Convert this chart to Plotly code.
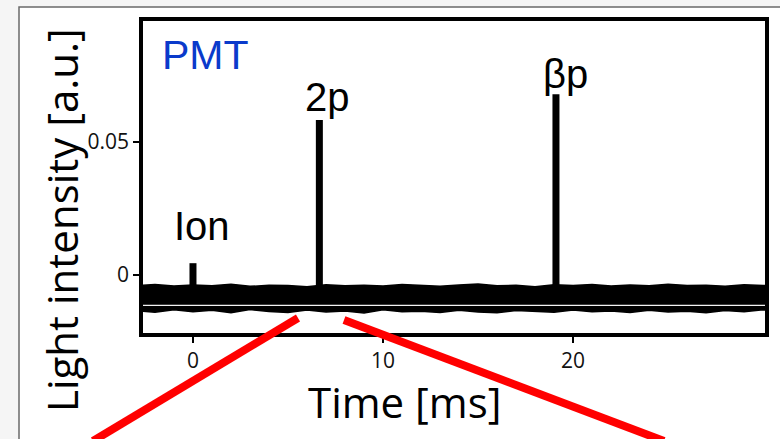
import plotly.graph_objects as go

# ---------------- data ----------------
# baseline noise band envelope (time in ms, light intensity in a.u.)
t_env = [-3, -2, -1, 0, 1, 2, 3, 4, 5, 6, 7, 8, 9, 10, 11, 12, 13, 14, 15, 16,
         17, 18, 19, 20, 21, 22, 23, 24, 25, 26, 27, 28, 29, 30, 31]
band_upper = [-0.0040, -0.0036, -0.0042, -0.0038, -0.0041, -0.0035, -0.0043, -0.0039,
              -0.0040, -0.0044, -0.0037, -0.0041, -0.0039, -0.0042, -0.0036, -0.0040,
              -0.0043, -0.0038, -0.0034, -0.0041, -0.0039, -0.0044, -0.0037, -0.0040,
              -0.0036, -0.0042, -0.0038, -0.0041, -0.0035, -0.0040, -0.0039, -0.0043,
              -0.0037, -0.0040, -0.0041]
band_lower = [-0.0134, -0.0140, -0.0131, -0.0138, -0.0133, -0.0142, -0.0130, -0.0137,
              -0.0141, -0.0132, -0.0139, -0.0135, -0.0143, -0.0131, -0.0138, -0.0136,
              -0.0141, -0.0133, -0.0139, -0.0142, -0.0134, -0.0137, -0.0140, -0.0132,
              -0.0138, -0.0135, -0.0141, -0.0133, -0.0139, -0.0136, -0.0142, -0.0134,
              -0.0138, -0.0131, -0.0136]
baseline_level = -0.0085

# peaks
peak_labels = ["Ion", "2p", "βp"]
peak_times = [0.0, 6.65, 19.1]
peak_heights = [0.0044, 0.0581, 0.0678]

# axes
x_range = [-2.63, 30.1]
y_range = [-0.0218, 0.0953]
x_tickvals = [0, 10, 20]
x_ticktext = ["0", "10", "20"]
y_tickvals = [0, 0.05]
y_ticktext = ["0", "0.05"]

# ---------------- layout helpers ----------------
W, H = 780, 439
ML, MR, MT, MB = 143, 15, 21, 106
PW, PH = W - ML - MR, H - MT - MB


def px(xp):
    return (xp - ML) / PW


def py(yp):
    return (H - MB - yp) / PH


fig = go.Figure()

# noise band
fig.add_trace(go.Scatter(
    x=t_env + t_env[::-1],
    y=band_upper + band_lower[::-1],
    fill="toself", fillcolor="black", mode="lines",
    line=dict(color="black", width=1.5),
    hoverinfo="skip", showlegend=False,
))

# spikes
sx, sy = [], []
for t, h in zip(peak_times, peak_heights):
    sx += [t, t, None]
    sy += [baseline_level, h, None]
fig.add_trace(go.Scatter(
    x=sx, y=sy, mode="lines",
    line=dict(color="black", width=7),
    hoverinfo="skip", showlegend=False,
))

label_font = dict(family="Liberation Sans, Arial, sans-serif", size=40, color="black")
label_pos = {"Ion": (0.47, 0.0185), "2p": (7.1, 0.0668), "βp": (19.6, 0.0755)}
for lab in peak_labels:
    x, y = label_pos[lab]
    fig.add_annotation(x=x, y=y, xref="x", yref="y", text=lab, showarrow=False,
                       font=label_font, xanchor="center", yanchor="middle")

fig.add_annotation(x=0.68, y=0.0825, xref="x", yref="y", text="PMT", showarrow=False,
                   font=dict(family="Liberation Sans, Arial, sans-serif", size=41, color="#0a3acb"),
                   xanchor="center", yanchor="middle")

# axis titles
fig.add_annotation(x=px(61), y=py(220), xref="paper", yref="paper",
                   text="Light intensity [a.u.]", textangle=-90, showarrow=False,
                   font=dict(family="Open Sans, sans-serif", size=42, color="black"),
                   xanchor="center", yanchor="middle")
fig.add_annotation(x=px(405), y=py(401), xref="paper", yref="paper",
                   text="Time [ms]", showarrow=False,
                   font=dict(family="Open Sans, sans-serif", size=42, color="black"),
                   xanchor="center", yanchor="middle")

shapes = [
    # outer white panel with grey frame
    dict(type="rect", xref="paper", yref="paper", x0=px(19), y0=py(460), x1=px(800), y1=py(7),
         fillcolor="white", line=dict(color="#6a6a6a", width=1.5), layer="below"),
    # faint white scan line across the band
    dict(type="line", xref="paper", yref="y", x0=0, x1=1, y0=-0.0114, y1=-0.0114,
         line=dict(color="rgba(255,255,255,0.95)", width=1.2), layer="above"),
    # red zoom lines
    dict(type="line", xref="paper", yref="paper", x0=px(93), y0=py(441), x1=px(298), y1=py(318),
         line=dict(color="#ff0000", width=8), layer="above"),
    dict(type="line", xref="paper", yref="paper", x0=px(344), y0=py(320), x1=px(664), y1=py(441),
         line=dict(color="#ff0000", width=8), layer="above"),
]

tickfont = dict(family="Open Sans, sans-serif", size=21, color="#111111")
fig.update_layout(
    width=W, height=H,
    margin=dict(l=ML, r=MR, t=MT, b=MB, pad=0),
    paper_bgcolor="#f5f5f5", plot_bgcolor="white",
    showlegend=False,
    shapes=shapes,
    xaxis=dict(range=x_range, tickvals=x_tickvals, ticktext=x_ticktext,
               ticks="outside", ticklen=6, tickwidth=1.5, tickcolor="black",
               showline=True, mirror=True, linewidth=3.5, linecolor="black",
               showgrid=False, zeroline=False, tickfont=tickfont, automargin=False),
    yaxis=dict(range=y_range, tickvals=y_tickvals, ticktext=y_ticktext,
               ticks="outside", ticklen=6, tickwidth=1.5, tickcolor="black",
               showline=True, mirror=True, linewidth=3.5, linecolor="black",
               showgrid=False, zeroline=False, tickfont=tickfont, automargin=False),
)

fig.write_html("out.html")
